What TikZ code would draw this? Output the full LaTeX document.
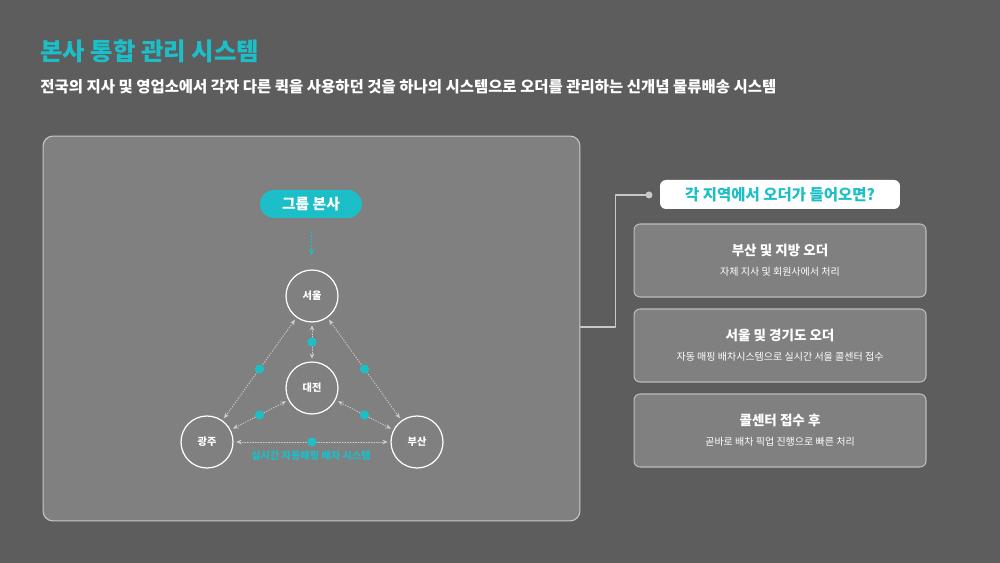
\documentclass[tikz,border=0pt]{standalone}
\usepackage{fontspec}
\setmainfont{Noto Sans CJK KR}
\usepackage{xcolor}
\usepackage{tikz}
\usetikzlibrary{arrows.meta,positioning}
\definecolor{dlvbg}{RGB}{93,93,93}
\definecolor{dlvpanel}{RGB}{128,128,128}
\definecolor{dlvedge}{RGB}{200,200,200}
\definecolor{dlvteal}{RGB}{28,190,200}
\definecolor{dlvlink}{RGB}{205,205,205}

\begin{document}
\begin{tikzpicture}[x=0.02cm, y=-0.02cm, >=Stealth, line cap=round, line join=round,
    city/.style={circle, draw=white, line width=0.7pt, minimum size=1.04cm, inner sep=0pt,
      text=white, font=\fontsize{5.8}{7}\selectfont\bfseries},
    link/.style={dlvlink, line width=0.5pt, dash pattern=on 0.5pt off 1pt,
      {Stealth[length=3pt,width=2.6pt]}-{Stealth[length=3pt,width=2.6pt]}, shorten <=1.5pt, shorten >=1.5pt},
    hubdot/.style={circle, fill=dlvteal, inner sep=0pt, minimum size=5.2pt},
    casebox/.style={draw=dlvedge!85!dlvpanel, fill=dlvpanel, line width=0.6pt, rounded corners=3.4pt,
      minimum width=5.84cm, minimum height=1.46cm}]
  \path[use as bounding box, fill=dlvbg] (0,0) rectangle (1000,563);

  % Headings
  \node[anchor=west, inner sep=0pt, text=dlvteal, font=\fontsize{13.9}{16}\selectfont\bfseries] (title) at (40,51) {본사 통합 관리 시스템};
  \node[anchor=west, inner sep=0pt, text=white, font=\fontsize{8.8}{10}\selectfont\bfseries] (subtitle) at (40,87)
    {전국의 지사 및 영업소에서 각자 다른 퀵을 사용하던 것을 하나의 시스템으로 오더를 관리하는 신개념 물류배송 시스템};

  % Left panel
  \node[draw=dlvedge, fill=dlvpanel, line width=0.6pt, rounded corners=5.7pt,
    minimum width=10.74cm, minimum height=7.7cm] (board) at (311.5,328.5) {};

  % Head office
  \node[fill=dlvteal, rounded corners=8pt, minimum width=2.04cm, minimum height=0.56cm,
    text=white, font=\fontsize{8.4}{10}\selectfont\bfseries] (hq) at (311,204) {그룹 본사};

  % Branch offices
  \node[city] (seoul) at (312,296) {서울};
  \node[city] (daejeon) at (312,388) {대전};
  \node[city] (gwangju) at (207,442) {광주};
  \node[city] (busan) at (417,442) {부산};

  \draw[dlvteal, line width=0.6pt, dash pattern=on 0.6pt off 1.2pt, -{Stealth[length=3.5pt,width=3pt]},
    shorten <=8pt, shorten >=8pt] (hq) -- (seoul);

  % Matching links
  \foreach \a/\b in {seoul/daejeon,gwangju/seoul,busan/seoul,gwangju/daejeon,busan/daejeon,gwangju/busan} {
    \draw[link] (\a) -- node[hubdot] {} (\b);
  }

  \node[text=dlvteal, font=\fontsize{5.8}{7}\selectfont\bfseries] (matching) at (311,456) {실시간 자동매핑 배차 시스템};

  % Right side
  \node[fill=white, rounded corners=3.4pt, minimum width=4.8cm, minimum height=0.58cm,
    text=dlvteal, font=\fontsize{8.8}{10}\selectfont\bfseries] (question) at (780,194.5) {각 지역에서 오더가 들어오면?};
  \coordinate (qdot) at (649,195);
  \draw[dlvedge, line width=0.6pt] (board.east |- 0,327) -- ++(35,0) |- (qdot);
  \fill[dlvedge] (qdot) circle (2pt);

  \foreach \i/\y/\head/\body in {1/260.5/부산 및 지방 오더/자체 지사 및 회원사에서 처리,
      2/345.5/서울 및 경기도 오더/자동 매핑 배차시스템으로 실시간 서울 콜센터 접수,
      3/430.5/콜센터 접수 후/곧바로 배차 픽업 진행으로 빠른 처리} {
    \node[casebox] (case\i) at (780,\y) {};
    \node[text=white, font=\fontsize{7.7}{9}\selectfont\bfseries] (case\i head) at (780,\y-10.5) {\head};
    \node[text=white, font=\fontsize{5.7}{7}\selectfont] (case\i body) at (780,\y+11.5) {\body};
  }

\end{tikzpicture}
\end{document}
